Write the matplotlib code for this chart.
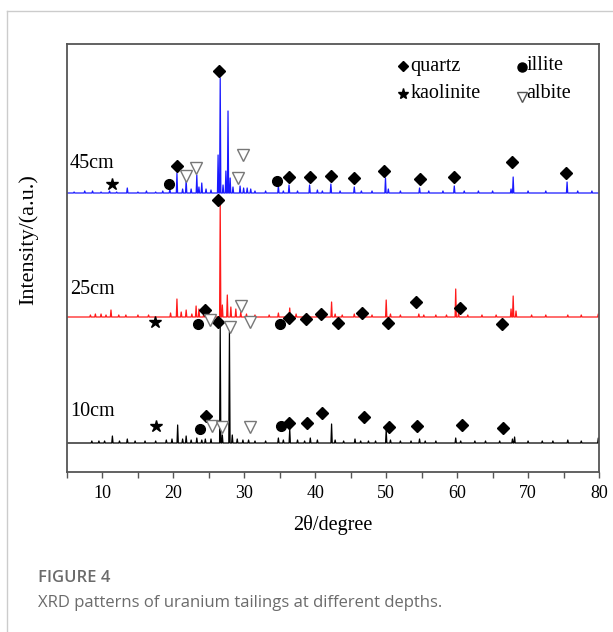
import numpy as np
import matplotlib
matplotlib.use("Agg")
import matplotlib.pyplot as plt
from matplotlib.lines import Line2D

plt.rcParams['font.family'] = ['Liberation Serif', 'DejaVu Serif']

# peak positions (2theta) and heights above each baseline
pk_10 = [8.5, 9.5, 10.3, 11.4, 12.4, 13.5, 14.6, 16.0, 17.5, 19.0, 19.8, 20.6, 21.3, 21.8,
         22.5, 23.3, 24.0, 24.5, 25.3, 26.6, 26.9, 27.9, 28.3, 29.0, 29.8, 30.6, 31.5, 33.0,
         34.8, 35.5, 36.4, 37.5, 38.5, 39.3, 40.3, 42.3, 42.8, 44.0, 45.6, 46.4, 47.5, 48.5,
         50.0, 50.6, 52.0, 53.5, 54.7, 55.5, 57.0, 59.8, 60.5, 62.5, 64.0, 66.0, 67.8, 68.1,
         70.0, 72.0, 73.5, 75.6, 77.5, 79.9]
h_10 = [2, 2, 2, 7, 2, 4, 2, 2, 2, 3, 4, 18, 4, 7,
        3, 5, 3, 4, 4, 116, 8, 111, 8, 4, 3, 3, 2, 2,
        5, 3, 14, 3, 2, 5, 3, 19, 3, 2, 4, 2, 2, 2,
        13, 3, 2, 2, 4, 2, 2, 5, 2, 2, 2, 2, 4, 6,
        2, 2, 2, 3, 2, 5]

pk_25 = [8.3, 9.0, 9.8, 10.5, 11.2, 12.3, 13.3, 15.0, 16.5, 19.6, 20.5, 21.1, 21.8, 22.6,
         23.2, 23.6, 24.3, 25.0, 26.6, 26.9, 27.6, 28.1, 28.8, 29.5, 30.3, 31.5, 33.5, 34.8,
         36.4, 37.3, 38.8, 40.3, 42.3, 42.8, 43.8, 45.5, 46.2, 48.0, 50.0, 50.6, 52.0, 54.6,
         55.3, 57.0, 58.5, 59.8, 60.2, 61.5, 63.5, 65.5, 67.6, 67.9, 68.3, 70.5, 72.5, 75.6,
         77.5, 79.9]
h_25 = [2, 3, 3, 2, 7, 2, 2, 2, 2, 4, 18, 5, 7, 3,
        11, 8, 5, 4, 114, 12, 22, 10, 8, 5, 3, 2, 2, 4,
        9, 3, 3, 4, 15, 3, 2, 3, 2, 2, 17, 3, 2, 3,
        2, 2, 2, 28, 4, 2, 2, 2, 8, 21, 6, 2, 2, 2,
        2, 3]

pk_45 = [6.0, 7.5, 8.6, 9.8, 11.0, 12.0, 13.5, 15.0, 16.2, 17.5, 18.5, 19.5, 20.5, 21.3,
         21.8, 22.5, 23.3, 23.6, 24.0, 24.6, 25.3, 26.3, 26.6, 27.0, 27.4, 27.7, 28.0, 28.4,
         29.4, 29.9, 30.4, 30.9, 31.5, 33.0, 34.8, 35.5, 36.3, 37.5, 39.2, 40.3, 41.0, 42.2,
         43.5, 45.5, 46.5, 48.0, 49.9, 50.3, 52.0, 54.7, 56.0, 58.0, 59.6, 61.0, 63.0, 65.0,
         67.6, 67.9, 70.0, 72.5, 75.5, 77.0, 79.0]
h_45 = [1, 2, 2, 1, 2, 1, 5, 1, 2, 1, 2, 4, 20, 4,
        13, 4, 18, 6, 10, 4, 3, 38, 115, 8, 22, 82, 15, 6,
        7, 5, 5, 4, 2, 2, 7, 2, 8, 2, 8, 3, 2, 9,
        2, 6, 2, 2, 15, 4, 2, 5, 2, 2, 7, 2, 2, 2,
        4, 16, 2, 2, 11, 2, 2]

base_10, base_25, base_45 = 29, 155, 279

# phase markers (x, y) per trace
quartz_x = [20.55, 26.4, 36.3, 39.2, 42.2, 45.4, 49.7, 54.7, 59.6, 67.8, 75.3,
            24.4, 26.3, 36.3, 38.7, 40.8, 43.25, 46.6, 50.3, 54.2, 60.4, 66.3,
            24.6, 26.3, 36.3, 38.8, 40.9, 46.8, 50.4, 54.3, 60.7, 66.4]
quartz_y = [306, 401, 295, 295, 296, 294, 301, 293, 295, 310, 299,
            162, 272, 154, 153, 158, 149, 159, 149, 170, 164, 148,
            56, 150, 49, 49, 59, 55, 45, 46, 47, 44]
illite_x = [19.4, 34.6, 23.5, 35.0, 23.75, 35.1]
illite_y = [288, 291, 148, 148, 43, 46]
kaolinite_x = [11.3, 17.4, 17.5]
kaolinite_y = [288, 150, 46]
albite_x = [21.8, 23.2, 29.15, 29.85, 25.2, 29.6, 30.8, 25.4, 26.8, 28.0, 30.8]
albite_y = [296, 304, 294, 317, 152, 166, 150, 46, 45, 145, 45]

depth_labels = ['10cm', '25cm', '45cm']
label_y = [61, 183, 309]


def trace(pos, hts, base, w=0.09):
    xs, ys = [5.0], [base]
    for p, h in zip(pos, hts):
        xs += [p - w, p, p + w]
        ys += [base, base + h, base]
    xs.append(80.0)
    ys.append(base)
    return xs, ys


fig = plt.figure(figsize=(6.13, 6.32), dpi=100)
ax = fig.add_axes([67 / 613, 1 - 472 / 632, 532 / 613, 428 / 632])

for pos, hts, base, col in [(pk_10, h_10, base_10, 'black'),
                            (pk_25, h_25, base_25, '#ff1a1a'),
                            (pk_45, h_45, base_45, '#1a1aff')]:
    xs, ys = trace(pos, hts, base)
    ax.plot(xs, ys, color=col, lw=0.9)

ax.plot(quartz_x, quartz_y, 'D', color='black', ms=5.8, ls='none')
ax.plot(illite_x, illite_y, 'o', color='black', ms=7, ls='none')
ax.plot(kaolinite_x, kaolinite_y, '*', color='black', ms=9, ls='none')
ax.plot(albite_x, albite_y, 'v', mfc='white', mec='#777777', mew=1.0, ms=8, ls='none')

for lab, y in zip(depth_labels, label_y):
    ax.text(5.4, y, lab, fontsize=14.5, va='center', ha='left')

# legend drawn as text
ax.plot([52.4], [406], 'D', color='black', ms=5.5)
ax.text(53.4, 406, 'quartz', fontsize=14.5, va='center')
ax.plot([69.1], [405], 'o', color='black', ms=6.5)
ax.text(69.8, 406, 'illite', fontsize=14.5, va='center')
ax.plot([52.3], [378], '*', color='black', ms=8)
ax.text(53.4, 378, 'kaolinite', fontsize=14.5, va='center')
ax.plot([69.1], [375], 'v', mfc='white', mec='#555555', ms=7)
ax.text(69.8, 378, 'albite', fontsize=14.5, va='center')

ax.set_xlim(5, 80)
ax.set_ylim(0, 428)
ax.set_xticks(np.arange(10, 81, 10))
ax.set_xticks(np.arange(5, 80, 10), minor=True)
ax.set_yticks([])
ax.tick_params(axis='x', which='both', direction='out', length=4, width=1,
               color='#555555', labelsize=13, pad=5)
for s in ax.spines.values():
    s.set_color('#555555')
    s.set_linewidth(1.3)

ax.set_xlabel('2θ/degree', fontsize=14.5, labelpad=10)
ax.text(-0.073, 0.542, 'Intensity/(a.u.)', transform=ax.transAxes, rotation=90,
        fontsize=16, ha='center', va='center')

# page frame and caption
fig.add_artist(Line2D([6.5 / 613, 6.5 / 613], [0, 1 - 10.5 / 632], color='#cccccc', lw=1))
fig.add_artist(Line2D([6.5 / 613, 1], [1 - 10.5 / 632, 1 - 10.5 / 632], color='#cccccc', lw=1))
fig.text(38 / 613, 1 - 578 / 632, 'FIGURE 4', family='Open Sans', fontsize=12,
         color='#6b6b6b', va='center', weight='semibold')
fig.text(38 / 613, 1 - 603 / 632, 'XRD patterns of uranium tailings at different depths.',
         family='Open Sans', fontsize=12, color='#6b6b6b', va='center')

fig.savefig('out.png', dpi=100)
